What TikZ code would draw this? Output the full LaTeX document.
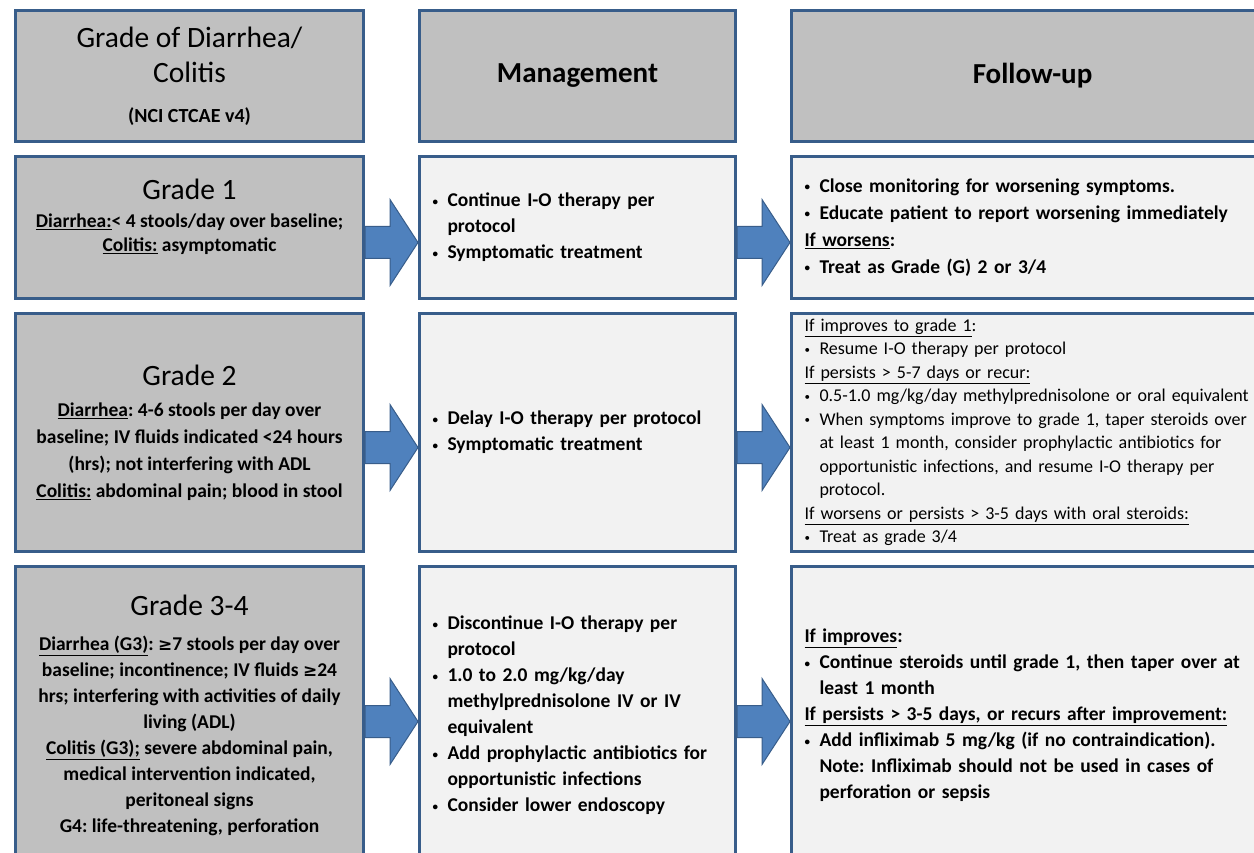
\documentclass[tikz,border=0pt]{standalone}
\usepackage{fontspec}
\setmainfont{Carlito}
\newfontfamily\symfont{DejaVu Sans}
\usetikzlibrary{calc}
\frenchspacing

\definecolor{boxline}{RGB}{56,93,138}
\definecolor{headgray}{RGB}{192,192,192}
\definecolor{lightgray}{RGB}{242,242,242}
\definecolor{arrowblue}{RGB}{79,129,189}

\newcommand{\bul}{\makebox[15pt][l]{\raisebox{1.5pt}{\fontsize{11}{11}\selectfont\textbullet}}}
\newcommand{\ind}{\hspace*{15pt}}
\newcommand{\titletext}[1]{{\fontsize{29.5}{30}\selectfont\mdseries #1}}

% fat arrow from the east side of #1 to the west side of #2, lowered by #3
\newcommand{\blockarrow}[3]{%
  \draw[barrow] let \p1=(#1.east), \p2=(#2.west) in
    (\x1,\y1-#3+16pt) -- (\x2-28pt,\y1-#3+16pt) -- (\x2-28pt,\y1-#3+43pt) -- (\x2,\y1-#3)
    -- (\x2-28pt,\y1-#3-43pt) -- (\x2-28pt,\y1-#3-16pt) -- (\x1,\y1-#3-16pt) -- cycle;}

\begin{document}
\begin{tikzpicture}[x=1pt,y=-1pt]
    \tikzstyle{head} = [rectangle, draw=boxline, line width=3pt, fill=headgray, inner sep=0pt, align=center]
    \tikzstyle{grade} = [head, minimum width=348pt, font=\bfseries\fontsize{19.5}{26}\selectfont]
    \tikzstyle{plan} = [rectangle, draw=boxline, line width=3pt, fill=lightgray, inner xsep=13pt, inner ysep=0pt, align=left, font=\bfseries\fontsize{19.5}{26}\selectfont]
    \tikzstyle{barrow} = [draw=boxline, line width=1pt, fill=arrowblue]

    \clip (0,0) rectangle (1254,853);
    \fill[white] (0,0) rectangle (1254,853);

    % column heads
    \node[head, minimum width=348pt, minimum height=131pt, font=\fontsize{20}{35}\selectfont] (hgrade) at (189.5,76)
        {\titletext{Grade of Diarrhea/}\\ \titletext{Colitis}\\[5pt] {\bfseries (NCI CTCAE v4)}};
    \node[head, minimum width=316pt, minimum height=131pt] (hmanage) at (577.5,76)
        {\bfseries\fontsize{29}{30}\selectfont Management};
    \node[head, minimum width=482pt, minimum height=131pt] (hfollow) at (1032.5,76)
        {\bfseries\fontsize{29}{30}\selectfont Follow-up};

    % grades
    \node[grade, minimum height=142pt] (grade1) at (189.5,227.5)
        {\titletext{Grade 1}\\[2pt]
         \underline{Diarrhea:}< 4 stools/day over baseline;\\[-2pt]
         \underline{Colitis:} asymptomatic\\[-2pt]\mbox{}};
    \node[grade, minimum height=238pt, font=\bfseries\fontsize{19.5}{27}\selectfont] (grade2) at (189.5,432.5)
        {\titletext{Grade 2}\\[4pt]
         \underline{Diarrhea}: 4-6 stools per day over\\
         baseline; IV fluids indicated <24 hours\\
         (hrs); not interfering with ADL\\
         \underline{Colitis:} abdominal pain; blood in stool};
    \node[grade, minimum height=298pt] (grade3) at (189.5,715.5)
        {\titletext{Grade 3-4}\\[9pt]
         \underline{Diarrhea (G3)}: {\symfont\fontsize{17}{20}\selectfont ≥}7 stools per day over\\
         baseline; incontinence; IV fluids {\symfont\fontsize{17}{20}\selectfont ≥}24\\
         hrs; interfering with  activities of daily\\
         living (ADL)\\
         \underline{Colitis (G3);}  severe abdominal pain,\\
         medical intervention indicated,\\
         peritoneal signs\\
         G4: life-threatening, perforation};

    % management
    \node[plan, minimum width=316pt, minimum height=142pt, text width=290pt] (manage1) at (577.5,227.5)
        {\bul Continue I-O therapy per\\
         \ind protocol\\
         \bul Symptomatic treatment};
    \node[plan, minimum width=316pt, minimum height=238pt, text width=290pt] (manage2) at (577.5,432.5)
        {\bul Delay I-O therapy per protocol\\
         \bul Symptomatic treatment};
    \node[plan, minimum width=316pt, minimum height=298pt, text width=290pt] (manage3) at (577.5,715.5)
        {\bul Discontinue I-O therapy per\\
         \ind protocol\\
         \bul 1.0 to 2.0 mg/kg/day\\
         \ind methylprednisolone IV or IV\\
         \ind equivalent\\
         \bul Add prophylactic antibiotics for\\
         \ind opportunistic infections\\
         \bul Consider lower endoscopy};

    % follow-up
    \node[plan, minimum width=482pt, minimum height=142pt, text width=456pt, font=\bfseries\fontsize{19.5}{27}\selectfont] (follow1) at (1032.5,227.5)
        {\bul Close monitoring for worsening symptoms.\\
         \bul Educate patient to report worsening immediately\\
         \underline{If worsens}:\\
         \bul Treat as Grade (G) 2 or 3/4};
    \node[plan, minimum width=482pt, minimum height=238pt, text width=456pt, font=\fontsize{18}{23.5}\selectfont] (follow2) at (1032.5,432.5)
        {\underline{If improves to grade 1}:\\
         \bul Resume I-O therapy per protocol\\
         \underline{If persists > 5-7 days or recur:}\\
         \bul 0.5-1.0 mg/kg/day methylprednisolone or oral equivalent\\
         \bul When symptoms improve to grade 1, taper steroids over\\
         \ind at least 1 month, consider prophylactic antibiotics for\\
         \ind opportunistic infections, and resume I-O therapy per\\
         \ind protocol.\\
         \underline{If worsens or persists > 3-5 days with oral steroids:}\\
         \bul Treat as grade 3/4};
    \node[plan, minimum width=482pt, minimum height=298pt, text width=456pt] (follow3) at (1032.5,715.5)
        {\underline{If improves}:\\
         \bul Continue steroids until grade 1, then taper over at\\
         \ind least 1 month\\
         \underline{If persists > 3-5 days, or recurs after improvement:}\\
         \bul Add infliximab 5 mg/kg (if no contraindication).\\
         \ind Note: Infliximab should not be used in cases of\\
         \ind perforation or sepsis};

    \blockarrow{grade1}{manage1}{15pt}
    \blockarrow{grade2}{manage2}{15pt}
    \blockarrow{grade3}{manage3}{6pt}
    \blockarrow{manage1}{follow1}{15pt}
    \blockarrow{manage2}{follow2}{15pt}
    \blockarrow{manage3}{follow3}{6pt}
\end{tikzpicture}
\end{document}
